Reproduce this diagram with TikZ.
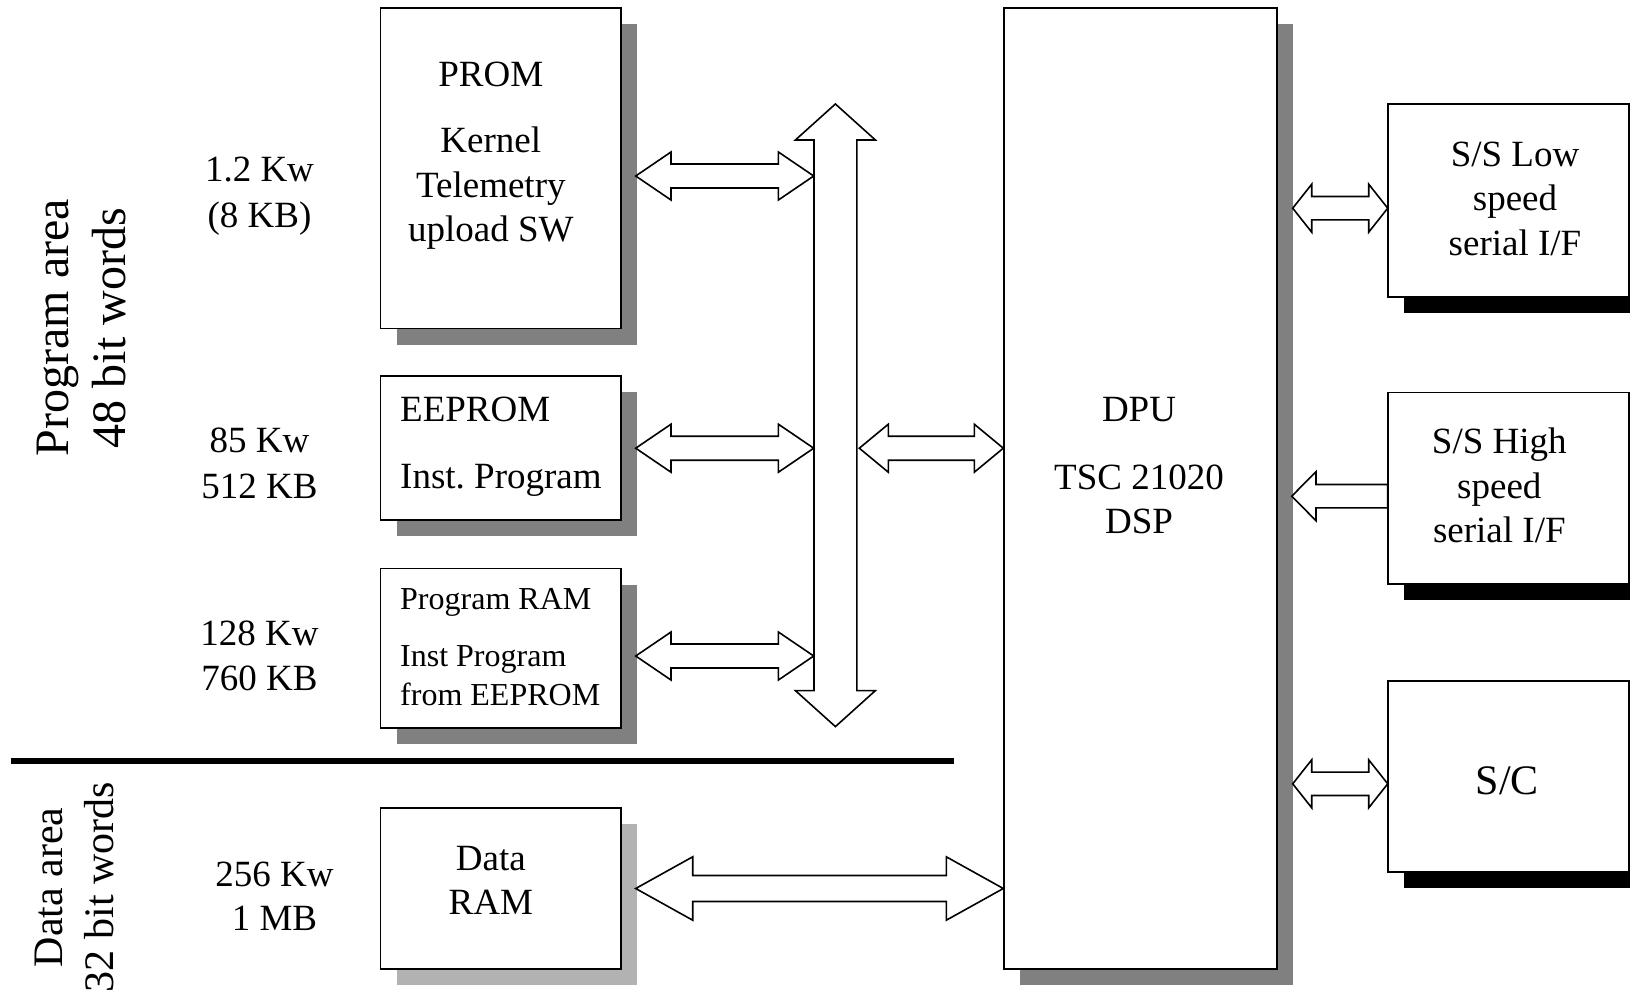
\documentclass[tikz,border=0pt]{standalone}
\usepackage{fontspec}
\setmainfont{Liberation Serif}
\usetikzlibrary{calc,backgrounds}

\definecolor{shadegray}{HTML}{808080}
\definecolor{shadelight}{HTML}{B2B2B2}

\tikzset{
  unitbox/.style={draw=black, fill=white, line width=1.8pt, inner sep=0pt, outer sep=0pt},
  txt/.style={inner sep=0pt, anchor=base, font=\fontsize{37}{45}\selectfont},
  txtl/.style={inner sep=0pt, anchor=base west, font=\fontsize{37}{45}\selectfont},
  txts/.style={inner sep=0pt, anchor=base west, font=\fontsize{32}{38}\selectfont},
  txtbig/.style={inner sep=0pt, anchor=base, font=\fontsize{42}{50}\selectfont},
  blockarrow/.style={draw=black, fill=white, line width=1.6pt, line join=miter},
  sidetitle/.style={inner sep=0pt, anchor=base, rotate=90, font=\fontsize{48}{58}\selectfont},
  sidetitlesm/.style={inner sep=0pt, anchor=base, rotate=90, font=\fontsize{42}{50}\selectfont},
}

% horizontal block arrow with two heads: start, end, head length, head half-width, shaft half-width
\newcommand{\blockdbl}[5]{%
  \draw[blockarrow] let \p1=(#1), \p2=(#2) in
    (\x1,\y1) -- (\x1+#3,\y1+#4) -- (\x1+#3,\y1+#5) -- (\x2-#3,\y1+#5) -- (\x2-#3,\y1+#4) -- (\x2,\y1)
    -- (\x2-#3,\y1-#4) -- (\x2-#3,\y1-#5) -- (\x1+#3,\y1-#5) -- (\x1+#3,\y1-#4) -- cycle;}
% vertical block arrow with two heads: top tip, bottom tip, head length, head half-width, shaft half-width
\newcommand{\blockvdbl}[5]{%
  \draw[blockarrow] let \p1=(#1), \p2=(#2) in
    (\x1,\y1) -- (\x1+#4,\y1-#3) -- (\x1+#5,\y1-#3) -- (\x1+#5,\y2+#3) -- (\x1+#4,\y2+#3) -- (\x1,\y2)
    -- (\x1-#4,\y2+#3) -- (\x1-#5,\y2+#3) -- (\x1-#5,\y1-#3) -- (\x1-#4,\y1-#3) -- cycle;}
% horizontal block arrow with one head at the start point
\newcommand{\blocksgl}[5]{%
  \draw[blockarrow] let \p1=(#1), \p2=(#2) in
    (\x1,\y1) -- (\x1+#3,\y1+#4) -- (\x1+#3,\y1+#5) -- (\x2,\y1+#5) -- (\x2,\y1-#5)
    -- (\x1+#3,\y1-#5) -- (\x1+#3,\y1-#4) -- cycle;}

\frenchspacing
\begin{document}
\begin{tikzpicture}[x=1pt, y=-1pt]
\useasboundingbox (0,0) rectangle (1630,993);

% memory blocks
\node[unitbox, minimum width=240.1pt, minimum height=320.2pt] (prom)   at (500.55,168.4)  {};
\node[unitbox, minimum width=240.1pt, minimum height=144pt]   (eeprom) at (500.55,448)    {};
\node[unitbox, minimum width=240.1pt, minimum height=159.2pt] (pram)   at (500.55,648.1)  {};
\node[unitbox, minimum width=240.1pt, minimum height=160.7pt] (dram)   at (500.55,888.65) {};
% processor
\node[unitbox, minimum width=272.8pt, minimum height=960.5pt] (dpu)    at (1140.6,488.55) {};
% interfaces
\node[unitbox, minimum width=241.3pt, minimum height=192.4pt] (low)    at (1508.35,200.4) {};
\node[unitbox, minimum width=241.3pt, minimum height=191.8pt] (high)   at (1508.35,488.4) {};
\node[unitbox, minimum width=241.3pt, minimum height=191.2pt] (sc)     at (1508.35,776.5) {};

% offset shadows
\begin{pgfonlayer}{background}
  \foreach \b in {prom,eeprom,pram,dpu}
    \fill[shadegray] ([shift={(16,16)}]\b.south west) rectangle ([shift={(16,16)}]\b.north east);
  \fill[shadelight] ([shift={(16,16)}]dram.south west) rectangle ([shift={(16,16)}]dram.north east);
  \foreach \b in {low,high,sc}
    \fill[black] ([shift={(16,16)}]\b.south west) rectangle ([shift={(16,16)}]\b.north east);
\end{pgfonlayer}

% box texts
\node[txt] (tprom) at (490.8,86.3) {PROM};
\node[txt] (tker)  at (490.8,152) {Kernel};
\node[txt] (ttel)  at (490.8,197.5) {Telemetry};
\node[txt] (tup)   at (490.8,241.5) {upload SW};

\node[txtl] (tee)  at (400,421.6) {EEPROM};
\node[txtl] (tinst) at (400,488.6) {Inst.\ Program};

\node[txts] (tpr)  at (400,609.5) {Program RAM};
\node[txts] (tip)  at (400,666.5) {Inst Program};
\node[txts] (tfe)  at (400,705.5) {from EEPROM};

\node[txt] (tdata) at (490.8,870.5) {Data};
\node[txt] (tram)  at (490.8,914) {RAM};

\node[txt] (tdpu)  at (1139,421.6) {DPU};
\node[txt] (ttsc)  at (1139,489) {TSC 21020};
\node[txt] (tdsp)  at (1139,533.5) {DSP};

\node[txt] (tl1) at (1515,166) {S/S Low};
\node[txt] (tl2) at (1515,210.5) {speed};
\node[txt] (tl3) at (1515,255) {serial I/F};

\node[txt] (th1) at (1499.3,453.5) {S/S High};
\node[txt] (th2) at (1499.3,498.4) {speed};
\node[txt] (th3) at (1499.3,542.2) {serial I/F};

\node[txtbig] (tsc) at (1507.3,794.5) {S/C};

% size labels
\node[txt] (s1a) at (259.5,181.4) {1.2 Kw};
\node[txt] (s1b) at (259.5,227) {(8 KB)};
\node[txt] (s2a) at (259.5,452.8) {85 Kw};
\node[txt] (s2b) at (259.5,498.3) {512 KB};
\node[txt] (s3a) at (259.5,645) {128 Kw};
\node[txt] (s3b) at (259.5,690.6) {760 KB};
\node[txt] (s4a) at (274.5,886.5) {256 Kw};
\node[txt] (s4b) at (274.5,930.8) {1 MB};

% area titles
\node[sidetitle] (pa1) at (68,327.5) {Program area};
\node[sidetitle] (pa2) at (125,328) {48 bit words};
\node[sidetitlesm] (da1) at (62,887.4) {Data area};
\node[sidetitlesm] (da2) at (113,887) {32 bit words};

% separator between program and data areas
\coordinate (ruleL) at (11,761);
\coordinate (ruleR) at (954.3,761);
\draw[line width=5.7pt] (ruleL) -- (ruleR);

% program bus
\coordinate (bustop) at (835.4,104);
\coordinate (busbot) at (835.4,726.6);
\blockvdbl{bustop}{busbot}{36pt}{40pt}{21.4pt}

% memories to bus
\coordinate (a1L) at (635.7,176);   \coordinate (a1R) at (813.7,176);
\coordinate (a2L) at (635.7,448.2); \coordinate (a2R) at (813.7,448.2);
\coordinate (a3L) at (635.7,656);   \coordinate (a3R) at (813.7,656);
\blockdbl{a1L}{a1R}{35.3pt}{24pt}{12pt}
\blockdbl{a2L}{a2R}{35.3pt}{24pt}{12pt}
\blockdbl{a3L}{a3R}{35.3pt}{24pt}{12pt}

% bus to DPU
\coordinate (a4L) at (859.3,448.2); \coordinate (a4R) at (1003.3,448.2);
\blockdbl{a4L}{a4R}{29pt}{24pt}{12pt}

% data RAM to DPU
\coordinate (a5L) at (635.7,888.5); \coordinate (a5R) at (1003.3,888.5);
\blockdbl{a5L}{a5R}{57pt}{31.7pt}{13pt}

% DPU to interfaces
\coordinate (a6L) at (1292.7,208.2); \coordinate (a6R) at (1387.7,208.2);
\blockdbl{a6L}{a6R}{19pt}{24pt}{11.7pt}
\coordinate (a7tip) at (1291.7,496.2); \coordinate (a7tail) at (1387.7,496.2);
\blocksgl{a7tip}{a7tail}{24.3pt}{24.5pt}{11.7pt}
\coordinate (a8L) at (1292.7,783.8); \coordinate (a8R) at (1387.7,783.8);
\blockdbl{a8L}{a8R}{19pt}{24pt}{11.7pt}
\end{tikzpicture}
\end{document}
